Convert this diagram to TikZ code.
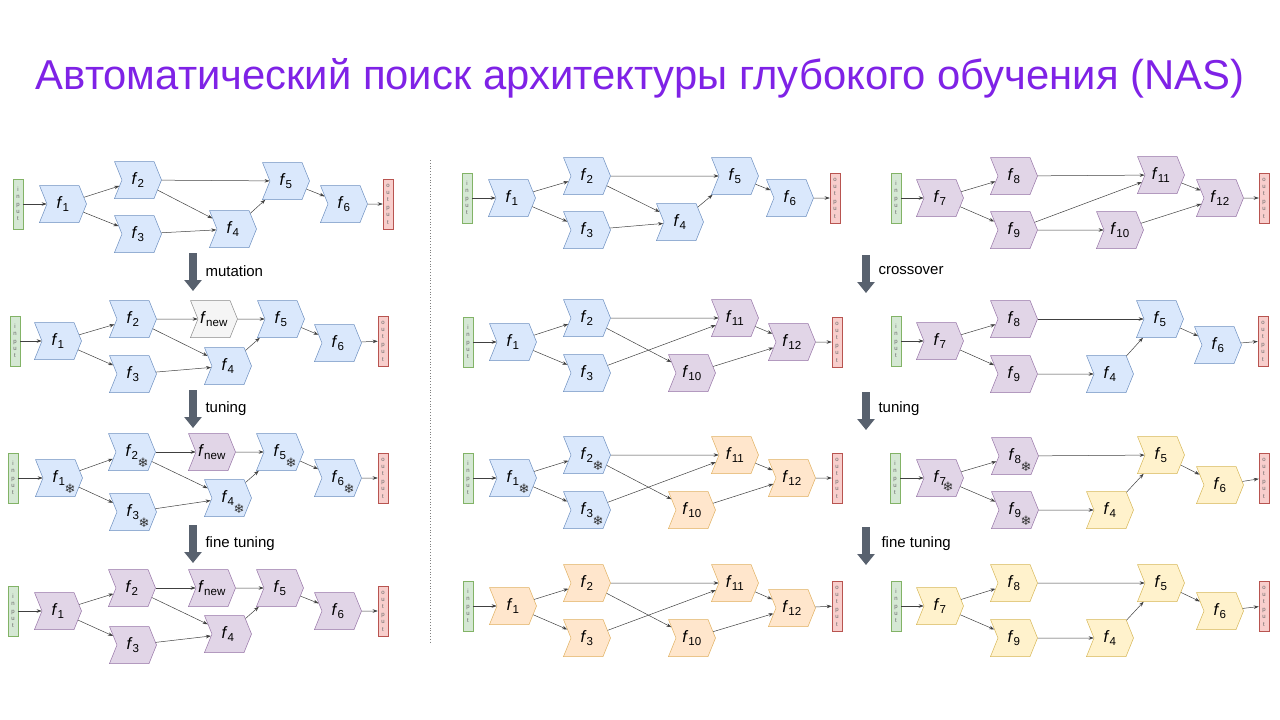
\documentclass[tikz,border=0pt]{standalone}
\usepackage{fontspec}
\setmainfont{Liberation Sans}
\newfontfamily\djv{DejaVu Sans}
\usetikzlibrary{shapes.symbols,arrows.meta}
\definecolor{bF}{HTML}{DAE8FC}\definecolor{bD}{HTML}{6C8EBF}
\definecolor{pF}{HTML}{E1D5E7}\definecolor{pD}{HTML}{9673A6}
\definecolor{oF}{HTML}{FFE6CC}\definecolor{oD}{HTML}{E0B060}
\definecolor{yF}{HTML}{FFF2CC}\definecolor{yD}{HTML}{D6B656}
\definecolor{gF}{HTML}{D5E8D4}\definecolor{gD}{HTML}{82B366}
\definecolor{rF}{HTML}{F8CECC}\definecolor{rD}{HTML}{B85450}
\definecolor{nF}{HTML}{F5F5F5}\definecolor{nD}{HTML}{8A8A8A}
\definecolor{ttl}{HTML}{7F22E6}
\definecolor{bar}{HTML}{58616E}
\tikzset{
 fb/.style={signal, signal to=east, signal from=west, signal pointer angle=136,
   minimum width=47pt, minimum height=37pt, inner sep=0pt, draw=#1D, fill=#1F,
   line width=0.5pt, font=\fontsize{16.5}{16.5}\selectfont},
 io/.style={rectangle, minimum width=10pt, minimum height=50pt, inner sep=0pt,
   draw=#1D, fill=#1F, line width=0.5pt, align=center,
   font=\fontsize{6}{7.4}\selectfont, text=black!60},
 e/.style={draw=black!75, line width=0.5pt, -{Stealth[length=5pt,width=3.5pt]}},
 snow/.style={font=\djv\fontsize{13}{13}\selectfont, text=black!80, inner sep=0pt},
 big/.style={draw=bar, line width=8pt, -{Triangle[width=17pt,length=11pt]}},
 lbl/.style={anchor=west, font=\fontsize{15}{15}\selectfont}
}
\newcommand\F[4]{\node[fb=#1] (#2) at (#3) {\textit{f}\textsubscript{#4}};}
\newcommand\Fnew[3]{\node[fb=#1] (#2) at (#3) {\textit{f}\textsubscript{new}};}
\newcommand\IN[2]{\node[io=g] (#1) at (#2) {i\\n\\p\\u\\t};}
\newcommand\OUT[2]{\node[io=r] (#1) at (#2) {o\\u\\t\\p\\u\\t};}
\newcommand\SN[1]{\node[snow] (s#1) at ([shift={(11,11)}]#1.center) {❄};}
\begin{document}
\begin{tikzpicture}[x=1pt,y=-1pt]
\useasboundingbox (0,0) rectangle (1280,720);
\node[font=\fontsize{41.8}{42}\selectfont, text=ttl] (title) at (640,78) {Автоматический поиск архитектуры глубокого обучения (NAS)};
\coordinate (dl1) at (430,160); \coordinate (dl2) at (430,642);
\draw[black!50, dotted, line width=0.8pt] (dl1) -- (dl2);

% ---------- G1
\IN{ain}{18,204} \F{b}{a1}{63,204}{1} \F{b}{a2}{138,180}{2} \F{b}{a3}{138,234}{3}
\F{b}{a4}{233,229}{4} \F{b}{a5}{286,181}{5} \F{b}{a6}{344,204}{6} \OUT{aout}{388,204}
\foreach \s/\t in {ain/a1,a1/a2,a1/a3,a2/a5,a2/a4,a3/a4,a4/a5,a5/a6,a6/aout} \draw[e] (\s) -- (\t);
% ---------- G2
\IN{bin}{15,341} \F{b}{b1}{58,341}{1} \F{b}{b2}{133,319}{2} \Fnew{n}{bn}{214,319} \F{b}{b3}{133,374}{3}
\F{b}{b4}{228,366}{4} \F{b}{b5}{281,319}{5} \F{b}{b6}{338,343}{6} \OUT{bout}{383,341}
\foreach \s/\t in {bin/b1,b1/b2,b1/b3,b2/bn,bn/b5,b2/b4,b3/b4,b4/b5,b5/b6,b6/bout} \draw[e] (\s) -- (\t);
% ---------- G3
\IN{cin}{13,478} \F{b}{c1}{59,478}{1} \F{b}{c2}{132,452}{2} \Fnew{p}{cn}{212,452} \F{b}{c3}{133,512}{3}
\F{b}{c4}{228,498}{4} \F{b}{c5}{280,452}{5} \F{b}{c6}{338,478}{6} \OUT{cout}{383,478}
\foreach \s/\t in {cin/c1,c1/c2,c1/c3,c2/cn,cn/c5,c2/c4,c3/c4,c4/c5,c5/c6,c6/cout} \draw[e] (\s) -- (\t);
\SN{c1}\SN{c2}\SN{c3}\SN{c4}\SN{c5}\SN{c6}
% ---------- G4
\IN{din}{13,611} \F{p}{d1}{58,611}{1} \F{p}{d2}{132,588}{2} \Fnew{p}{dn}{212,588} \F{p}{d3}{133,645}{3}
\F{p}{d4}{228,634}{4} \F{p}{d5}{280,588}{5} \F{p}{d6}{338,611}{6} \OUT{dout}{383,611}
\foreach \s/\t in {din/d1,d1/d2,d1/d3,d2/dn,dn/d5,d2/d4,d3/d4,d4/d5,d5/d6,d6/dout} \draw[e] (\s) -- (\t);

% ---------- M1
\IN{ein}{467,198} \F{b}{e1}{512,198}{1} \F{b}{e2}{587,176}{2} \F{b}{e3}{587,230}{3}
\F{b}{e4}{680,222}{4} \F{b}{e5}{735,176}{5} \F{b}{e6}{790,198}{6} \OUT{eout}{835,198}
\foreach \s/\t in {ein/e1,e1/e2,e1/e3,e2/e5,e2/e4,e3/e4,e4/e5,e5/e6,e6/eout} \draw[e] (\s) -- (\t);
% ---------- M2
\IN{fin}{468,342} \F{b}{f1}{513,342}{1} \F{b}{f2}{587,318}{2} \F{b}{f3}{587,373}{3}
\F{p}{f10}{692,373}{10} \F{p}{f11}{735,318}{11} \F{p}{f12}{792,342}{12} \OUT{fout}{837,342}
\foreach \s/\t in {fin/f1,f1/f2,f1/f3,f2/f11,f2/f10,f3/f11,f10/f12,f11/f12,f12/fout} \draw[e] (\s) -- (\t);
% ---------- M3
\IN{gin}{468,478} \F{b}{g1}{513,478}{1} \F{b}{g2}{587,455}{2} \F{b}{g3}{587,510}{3}
\F{o}{g10}{692,510}{10} \F{o}{g11}{735,455}{11} \F{o}{g12}{792,478}{12} \OUT{gout}{837,478}
\foreach \s/\t in {gin/g1,g1/g2,g1/g3,g2/g11,g2/g10,g3/g11,g10/g12,g11/g12,g12/gout} \draw[e] (\s) -- (\t);
\SN{g1}\SN{g2}\SN{g3}
% ---------- M4
\IN{hin}{468,606} \F{o}{h1}{513,606}{1} \F{o}{h2}{587,583}{2} \F{o}{h3}{587,638}{3}
\F{o}{h10}{692,638}{10} \F{o}{h11}{735,583}{11} \F{o}{h12}{792,608}{12} \OUT{hout}{837,606}
\foreach \s/\t in {hin/h1,h1/h2,h1/h3,h2/h11,h2/h10,h3/h11,h10/h12,h11/h12,h12/hout} \draw[e] (\s) -- (\t);

% ---------- R1
\IN{iin}{896,198} \F{p}{i7}{940,198}{7} \F{p}{i8}{1014,176}{8} \F{p}{i9}{1014,230}{9}
\F{p}{i10}{1120,230}{10} \F{p}{i11}{1161,175}{11} \F{p}{i12}{1220,198}{12} \OUT{iout}{1264,198}
\foreach \s/\t in {iin/i7,i7/i8,i7/i9,i8/i11,i9/i11,i9/i10,i10/i12,i11/i12,i12/iout} \draw[e] (\s) -- (\t);
% ---------- R2
\IN{jin}{896,341} \F{p}{j7}{940,341}{7} \F{p}{j8}{1014,319}{8} \F{p}{j9}{1014,374}{9}
\F{b}{j4}{1110,374}{4} \F{b}{j5}{1160,319}{5} \F{b}{j6}{1218,345}{6} \OUT{jout}{1263,341}
\foreach \s/\t in {jin/j7,j7/j8,j7/j9,j8/j5,j9/j4,j4/j5,j5/j6,j6/jout} \draw[e] (\s) -- (\t);
% ---------- R3
\IN{kin}{895,478} \F{p}{k7}{940,478}{7} \F{p}{k8}{1015,456}{8} \F{p}{k9}{1015,510}{9}
\F{y}{k4}{1110,510}{4} \F{y}{k5}{1161,455}{5} \F{y}{k6}{1220,485}{6} \OUT{kout}{1264,478}
\foreach \s/\t in {kin/k7,k7/k8,k7/k9,k8/k5,k9/k4,k4/k5,k5/k6,k6/kout} \draw[e] (\s) -- (\t);
\node[snow] (sk7) at ([shift={(8,9)}]k7.center) {❄}; \SN{k8}\SN{k9}
% ---------- R4
\IN{lin}{896,606} \F{y}{l7}{940,606}{7} \F{y}{l8}{1014,583}{8} \F{y}{l9}{1014,638}{9}
\F{y}{l4}{1110,638}{4} \F{y}{l5}{1161,583}{5} \F{y}{l6}{1220,611}{6} \OUT{lout}{1264,606}
\foreach \s/\t in {lin/l7,l7/l8,l7/l9,l8/l5,l9/l4,l4/l5,l5/l6,l6/lout} \draw[e] (\s) -- (\t);

% ---------- block arrows
\coordinate (A1a) at (193,253); \coordinate (A1b) at (193,291);
\coordinate (A2a) at (193,390); \coordinate (A2b) at (193,428);
\coordinate (A3a) at (193,525); \coordinate (A3b) at (193,563);
\coordinate (B1a) at (866,255); \coordinate (B1b) at (866,293);
\coordinate (B2a) at (866,392); \coordinate (B2b) at (866,430);
\coordinate (B3a) at (866,527); \coordinate (B3b) at (866,565);
\foreach \p in {A1,A2,A3,B1,B2,B3} \draw[big] (\p a) -- (\p b);
\node[lbl] (t1) at (202,271) {mutation};
\node[lbl] (t2) at (202,409) {tuning};
\node[lbl] (t3) at (202,544) {fine tuning};
\node[lbl] (t4) at (875,271) {crossover};
\node[lbl] (t5) at (875,409) {tuning};
\node[lbl] (t6) at (878,544) {fine tuning};
\end{tikzpicture}
\end{document}
